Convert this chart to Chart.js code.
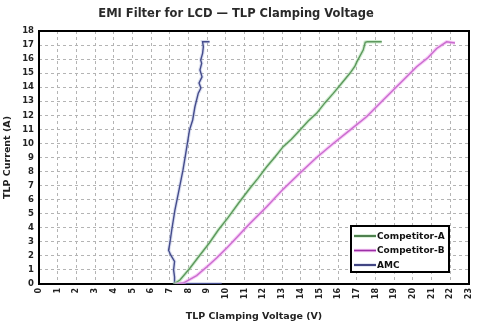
<!DOCTYPE html>
<html>
<head>
<meta charset="utf-8">
<script src="https://cdn.jsdelivr.net/npm/chart.js@4"></script>
<style>
  html, body { margin: 0; padding: 0; background: #fff; }
</style>
</head>
<body>
<canvas id="tlp" width="478" height="326"></canvas>
<script>
// ===== TLP clamping curves (voltage in V, current in A) =====
const amcVoltage = [9.77, 8.6, 7.25, 7.25, 7.2, 7.25, 7.05, 6.93, 7.0, 7.1, 7.27, 7.49, 7.7, 7.85, 8.05, 8.22, 8.34, 8.52, 8.66, 8.56, 8.72, 8.61, 8.70, 8.65, 8.75, 8.79, 8.75, 9.12];
const amcCurrent = [0.02, 0.02, 0.02, 0.5, 1.0, 1.6, 2.05, 2.4, 2.9, 3.84, 5.26, 6.7, 8.1, 9.3, 10.95, 11.67, 12.61, 13.58, 13.94, 14.3, 14.74, 15.22, 15.7, 15.93, 16.41, 16.88, 17.23, 17.23];

const compAVoltage = [7.2, 7.54, 8.07, 8.61, 9.1, 9.59, 10.1, 10.7, 11.28, 11.7, 12.18, 12.6, 13.06, 13.5, 13.96, 14.4, 14.85, 15.3, 15.74, 16.2, 16.63, 16.9, 17.0, 17.34, 17.45, 17.55, 18.33];
const compACurrent = [0.0, 0.28, 1.12, 2.06, 2.9, 3.84, 4.7, 5.8, 6.81, 7.5, 8.34, 9.0, 9.77, 10.3, 10.95, 11.6, 12.14, 12.9, 13.56, 14.3, 14.99, 15.5, 15.8, 16.64, 17.2, 17.23, 17.23];

const compBVoltage = [7.25, 7.72, 8.43, 9.0, 9.5, 10.0, 10.5, 11.28, 12.18, 13.06, 13.96, 14.85, 15.74, 16.63, 17.52, 18.41, 19.3, 20.2, 20.8, 21.27, 21.8, 22.25];
const compBCurrent = [0.0, 0.07, 0.6, 1.25, 1.85, 2.5, 3.2, 4.3, 5.5, 6.75, 7.9, 9.0, 10.0, 10.95, 11.9, 13.09, 14.27, 15.46, 16.1, 16.76, 17.23, 17.15];

const xTicksMax = 23;
const yTicksMax = 18;

const toPoints = (xs, ys) => xs.map((x, i) => ({ x, y: ys[i] }));

const series = [
    { label: 'Competitor-A', xs: compAVoltage, ys: compACurrent, color: '#2f652f', halo: 'rgba(150,215,150,0.45)' },
    { label: 'Competitor-B', xs: compBVoltage, ys: compBCurrent, color: '#9c2fa6', halo: 'rgba(240,160,240,0.55)' },
    { label: 'AMC', xs: amcVoltage, ys: amcCurrent, color: '#1a1f68', halo: 'rgba(150,160,210,0.35)' }
];

const datasets = [];
series.forEach(s => {
    // soft glow under each trace
    datasets.push({ data: toPoints(s.xs, s.ys), showLine: true, pointRadius: 0, borderColor: s.halo, borderWidth: 3.5, fill: false });
});
series.forEach(s => {
    datasets.push({ label: s.label, data: toPoints(s.xs, s.ys), showLine: true, pointRadius: 0, borderColor: s.color, borderWidth: 1.4, fill: false });
});

const FONT = 'DejaVu Sans';

// plot frame, title and boxed legend
const decorations = {
    id: 'decorations',
    beforeDatasetsDraw(chart) {
        const { ctx, chartArea: a } = chart;
        ctx.save();
        ctx.strokeStyle = '#000';
        ctx.lineWidth = 2;
        ctx.strokeRect(a.left, a.top, a.right - a.left, a.bottom - a.top);
        ctx.restore();
    },
    afterDraw(chart) {
        const { ctx, chartArea: a } = chart;
        ctx.save();
        ctx.fillStyle = '#2a2a2a';
        ctx.font = `bold 11.5px "${FONT}"`;
        ctx.textAlign = 'center';
        ctx.textBaseline = 'middle';
        ctx.fillText('EMI Filter for LCD \u2014 TLP Clamping Voltage', chart.width / 2 - 3, 14);

        const bx = a.right - 118, by = a.bottom - 58, bw = 98, bh = 46;
        ctx.fillStyle = '#fff';
        ctx.fillRect(bx, by, bw, bh);
        ctx.strokeStyle = '#000';
        ctx.lineWidth = 2;
        ctx.strokeRect(bx, by, bw, bh);
        ctx.font = `bold 9px "${FONT}"`;
        ctx.textAlign = 'left';
        series.forEach((s, i) => {
            const y = by + 10 + i * 14.5;
            ctx.strokeStyle = s.halo;
            ctx.lineWidth = 3.5;
            ctx.beginPath(); ctx.moveTo(bx + 3, y); ctx.lineTo(bx + 25, y); ctx.stroke();
            ctx.strokeStyle = s.color;
            ctx.lineWidth = 1.6;
            ctx.beginPath(); ctx.moveTo(bx + 3, y); ctx.lineTo(bx + 25, y); ctx.stroke();
            ctx.fillStyle = '#111';
            ctx.fillText(s.label, bx + 26, y + 0.5);
        });
        ctx.restore();
    }
};

new Chart(document.getElementById('tlp'), {
    type: 'scatter',
    data: { datasets },
    options: {
        responsive: false,
        animation: false,
        layout: { padding: { top: 31, right: 9, left: 0, bottom: 0 } },
        plugins: { legend: { display: false }, tooltip: { enabled: false }, title: { display: false } },
        scales: {
            x: {
                type: 'linear', min: 0, max: xTicksMax,
                afterFit(scale) { scale.height = 42; scale.paddingLeft = 0; scale.paddingRight = 0; },
                ticks: { stepSize: 1, maxRotation: 90, minRotation: 90, padding: 4, color: '#222', font: { family: FONT, size: 8, weight: 'bold' } },
                grid: { color: '#b4b4b4', lineWidth: 1, drawTicks: false },
                border: { display: false, dash: [3, 3] },
                title: { display: true, text: 'TLP Clamping Voltage (V)', color: '#222', font: { family: FONT, size: 9.5, weight: 'bold' }, padding: { top: 0, bottom: 4 } }
            },
            y: {
                type: 'linear', min: 0, max: yTicksMax,
                afterFit(scale) { scale.width = 39; },
                ticks: { stepSize: 1, padding: 5, color: '#222', font: { family: FONT, size: 8.5, weight: 'bold' } },
                grid: { color: '#b4b4b4', lineWidth: 1, drawTicks: false },
                border: { display: false, dash: [3, 3] },
                title: { display: true, text: 'TLP Current (A)', color: '#222', font: { family: FONT, size: 9.5, weight: 'bold' }, padding: { top: 2, bottom: 0 } }
            }
        }
    },
    plugins: [decorations]
});
</script>
</body>
</html>
